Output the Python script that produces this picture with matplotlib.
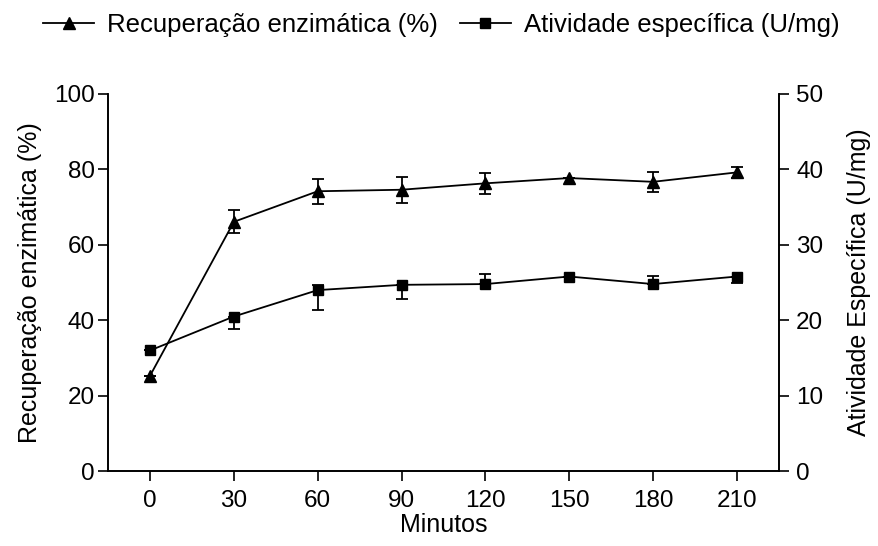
import numpy as np
import matplotlib
matplotlib.use("Agg")
import matplotlib.pyplot as plt
from matplotlib.lines import Line2D

plt.rcParams['font.family'] = ['Liberation Sans', 'DejaVu Sans']

# Data
minutos = [0, 30, 60, 90, 120, 150, 180, 210]
recuperacao = [25.3, 66.1, 74.2, 74.6, 76.3, 77.7, 76.7, 79.2]
recuperacao_err = [0.0, 3.0, 3.3, 3.5, 2.8, 0.0, 2.6, 1.5]
atividade = [16.0, 20.5, 24.0, 24.7, 24.8, 25.8, 24.8, 25.8]
# error bars of this series are drawn on one side only
atividade_err_low = [0.0, 1.6, 2.6, 1.9, 0.0, 0.0, 0.0, 0.9]
atividade_err_high = [0.0, 0.0, 0.7, 0.0, 1.4, 0.0, 1.1, 0.0]

fig = plt.figure(figsize=(8.79, 5.46), dpi=100)
ax = fig.add_axes([0.123, 0.137, 0.763, 0.691])
ax2 = ax.twinx()

tick_fs = 17.5
label_fs = 18

ax.errorbar(minutos, recuperacao, yerr=recuperacao_err, color='black', marker='^',
            markersize=9, linewidth=1.3, capsize=4, capthick=1.3, elinewidth=1.3)
ax2.errorbar(minutos, atividade, yerr=[atividade_err_low, atividade_err_high],
             color='black', marker='s', markersize=7, linewidth=1.3, capsize=4,
             capthick=1.3, elinewidth=1.3)

ax.set_xlim(-15, 225)
ax.set_ylim(0, 100)
ax2.set_ylim(0, 50)
ax.set_xticks(minutos)
ax.set_yticks(range(0, 101, 20))
ax2.set_yticks(range(0, 51, 10))

for a in (ax, ax2):
    a.spines['top'].set_visible(False)
    for s in a.spines.values():
        s.set_linewidth(1.2)
    a.tick_params(direction='out', length=7.5, width=1.2, labelsize=tick_fs, pad=2)
ax.tick_params(axis='x', pad=6)
ax2.tick_params(axis='y', pad=5)

ax.set_xlabel('Minutos', fontsize=label_fs, labelpad=1)
ax.set_ylabel('Recuperação enzimática (%)', fontsize=label_fs, labelpad=9)
ax2.set_ylabel('Atividade Específica (U/mg)', fontsize=label_fs, labelpad=17)

handles = [
    Line2D([], [], color='black', marker='^', markersize=9, linewidth=1.3),
    Line2D([], [], color='black', marker='s', markersize=7, linewidth=1.3),
]
labels = ['Recuperação enzimática (%)', 'Atividade específica (U/mg)']
fig.legend(handles, labels, loc='center', bbox_to_anchor=(0.502, 0.954), ncol=2,
           frameon=False, fontsize=18.5, handlelength=2.0, columnspacing=0.85,
           handletextpad=0.5, borderpad=0, borderaxespad=0)

fig.savefig('out.png', dpi=100)
